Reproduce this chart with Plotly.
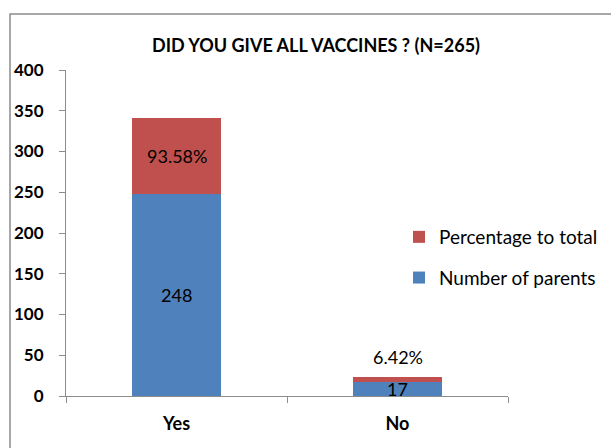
import plotly.graph_objects as go

categories = ["Yes", "No"]
number_of_parents = [248, 17]
percentage_to_total = [93.58, 6.42]
pct_labels = ["93.58%", "6.42%"]
y_ticks = [0, 50, 100, 150, 200, 250, 300, 350, 400]

BLUE = "#4F81BD"
RED = "#C0504D"
FONT = "Lato, Open Sans, sans-serif"

L, R, T, B = 66, 103, 70, 52
PW = 611 - L - R
PH = 448 - T - B

fig = go.Figure()
fig.add_trace(go.Bar(
    x=categories, y=number_of_parents, name="Number of parents",
    marker=dict(color=BLUE, line=dict(width=0)), legendgroup="a", legendrank=2,
    width=0.40,
))
fig.add_trace(go.Bar(
    x=categories, y=percentage_to_total, name="Percentage to total",
    marker=dict(color=RED, line=dict(width=0)), legendgroup="b", legendrank=1,
    width=0.40,
))

annotations = []
for c, n, p, lab in zip(categories, number_of_parents, percentage_to_total, pct_labels):
    annotations.append(dict(x=c, y=n / 2, text=str(n), showarrow=False,
                            font=dict(size=18, color="#000", family=FONT)))
    if p > 20:
        annotations.append(dict(x=c, y=n + p / 2, text=lab, showarrow=False,
                                font=dict(size=18, color="#000", family=FONT)))
    else:
        annotations.append(dict(x=c, y=n + p, text=lab, showarrow=False, yshift=20,
                                font=dict(size=18, color="#000", family=FONT)))

fig.update_layout(
    width=611, height=448,
    margin=dict(l=L, r=R, t=T, b=B, autoexpand=False),
    paper_bgcolor="white", plot_bgcolor="white",
    barmode="stack",
    title=dict(text="<b>DID YOU GIVE ALL VACCINES ? (N=265)</b>", x=316 / 611, xanchor="center",
               xref="container", y=1 - 46 / 448, yanchor="middle", yref="container",
               font=dict(size=18, color="#000", family=FONT)),
    font=dict(family=FONT, color="#000"),
    showlegend=True,
    legend=dict(x=(399 - L) / PW, y=(448 - B - 218) / PH, xanchor="left", yanchor="top",
                traceorder="grouped", tracegroupgap=13,
                font=dict(size=19, color="#000", family=FONT),
                bgcolor="rgba(0,0,0,0)", itemwidth=30),
    annotations=annotations,
    shapes=[dict(type="rect", xref="paper", yref="paper",
                 x0=(10 - L) / PW, x1=2, y0=-2, y1=(448 - B - 14) / PH,
                 line=dict(color="#8C8C8C", width=1.5), layer="below")],
)
fig.update_xaxes(
    showline=True, linecolor="#8C8C8C", linewidth=1.2,
    ticks="outside", tickson="boundaries", ticklen=6, tickcolor="#8C8C8C",
    tickfont=dict(size=18, family=FONT, color="#000", weight="bold"),
    ticklabelstandoff=11, automargin=False,
    showgrid=False, range=[-0.5, 1.5],
)
fig.update_yaxes(
    range=[0, 400], tickvals=y_ticks, ticktext=[str(v) for v in y_ticks],
    showline=True, linecolor="#8C8C8C", linewidth=1.2,
    ticks="outside", ticklen=6, tickcolor="#8C8C8C",
    tickfont=dict(size=17, family=FONT, color="#000", weight="bold"),
    ticklabelstandoff=12, automargin=False,
    showgrid=False, zeroline=False,
)

fig.write_html("out.html")
